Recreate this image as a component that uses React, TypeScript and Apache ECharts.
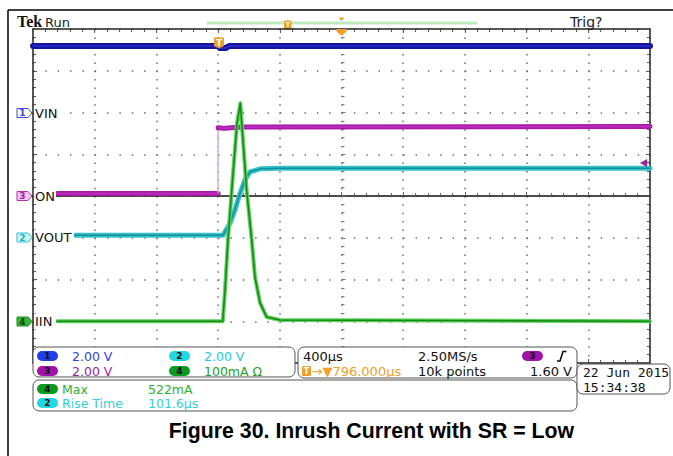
import React, { useEffect, useRef } from "react";
import * as echarts from "echarts";

// ---- Scope settings ----
const US_PER_DIV = 400;
const TRIG_DELAY_US = 796; // screen centre lies 796 µs after trigger
const X_TICKS_US = [-2000, 2000];

// ---- Channel data (time in µs after trigger) ----
// CH1 VIN (V), 2 V/div, ground at +2 div
const VIN_T = [-1204, -6, 8, 45, 70, 2796];
const VIN_V = [3.19, 3.19, 3.09, 3.09, 3.19, 3.19];
// CH3 ON (V), 2 V/div, ground at 0 div
const ON_T = [-1048, -4, -4, 40, 150, 2796];
const ON_V = [0.12, 0.12, 3.27, 3.24, 3.3, 3.33];
// CH2 VOUT (V), 2 V/div, ground at -1 div
const VOUT_T = [-931, 28, 73, 105, 138, 170, 203, 268, 397, 2796];
const VOUT_V = [0.12, 0.12, 0.69, 1.33, 2.13, 2.77, 3.16, 3.3, 3.33, 3.33];
// CH4 IIN (mA), 100 mA/div, ground at -3 div
const IIN_T = [-1048, 26, 41, 60, 93, 119, 140, 181, 214, 235, 268, 311, 397, 2796];
const IIN_I = [0, 0, 75, 195, 355, 475, 522, 314, 195, 106, 44, 10, 3, 0];

const CH_OFFSET = { vin: 2, on: 0, vout: -1, iin: -3 };
const CH_SCALE = { vin: 2, on: 2, vout: 2, iin: 100 };

const toPts = (t: number[], v: number[], off: number, sc: number) =>
  t.map((tt, i) => [tt - TRIG_DELAY_US, off + v[i] / sc]);

// layout
const GL = 33, GT = 29, GW = 617, GH = 334;
const FONT = '"DejaVu Sans"';

function lineSeries(data: number[][], color: string, width: number, z: number) {
  return {
    type: "line",
    data,
    symbol: "none",
    silent: true,
    z,
    lineStyle: { color, width, join: "round", cap: "round" },
    xAxisIndex: 0,
    yAxisIndex: 0,
  };
}

function text(x: number, y: number, t: string, fill: string, font: string, align = "left") {
  return {
    type: "text",
    style: { x, y, text: t, fill, font, textAlign: align, textVerticalAlign: "middle" },
    z: 100,
  };
}

function pill(x: number, y: number, label: string, fill: string) {
  return [
    { type: "rect", shape: { x, y, width: 21, height: 10, r: 5 }, style: { fill }, z: 100 },
    text(x + 10.5, y + 5, label, "#111", `bold 9px ${FONT}`, "center"),
  ];
}

function chMarker(y: number, label: string, stroke: string, fill: string, tcol: string, name: string, nameW: number) {
  return [
    { type: "rect", shape: { x: 34, y: y - 8, width: nameW, height: 16 }, style: { fill: "#fff" }, z: 90 },
    {
      type: "polygon",
      shape: { points: [[17, y - 4.5], [28, y - 4.5], [32, y], [28, y + 4.5], [17, y + 4.5]] },
      style: { fill, stroke, lineWidth: 1 },
      z: 100,
    },
    text(22.5, y, label, tcol, `bold 9px ${FONT}`, "center"),
    text(35, y, name, "#111", `13px ${FONT}`),
  ];
}

function panel(x: number, y: number, w: number, h: number) {
  return {
    type: "rect",
    shape: { x, y, width: w, height: h, r: 6 },
    style: { fill: "#fff", stroke: "#555", lineWidth: 1 },
    z: 95,
  };
}

const ORANGE = "#f0a02a";

export default function App() {
  const ref = useRef<HTMLDivElement>(null);
  useEffect(() => {
    document.body.style.margin = "0";
    const chart = echarts.init(ref.current!, undefined, { renderer: "svg" });

    const vin = toPts(VIN_T, VIN_V, CH_OFFSET.vin, CH_SCALE.vin);
    const on = toPts(ON_T, ON_V, CH_OFFSET.on, CH_SCALE.on);
    const vout = toPts(VOUT_T, VOUT_V, CH_OFFSET.vout, CH_SCALE.vout);
    const iin = toPts(IIN_T, IIN_I, CH_OFFSET.iin, CH_SCALE.iin);

    const dotV = { color: "#6e6e6e", width: 1.5, type: [1.5, 6.85] };
    const dotH = { color: "#6e6e6e", width: 1.5, type: [1.5, 10.84] };
    const border = { color: "#222", width: 1.5 };

    const graphic: any[] = [
      // page frame
      { type: "line", shape: { x1: 8, y1: 10, x2: 673, y2: 10 }, style: { stroke: "#000", lineWidth: 1.5 } },
      { type: "line", shape: { x1: 8, y1: 10, x2: 8, y2: 456 }, style: { stroke: "#000", lineWidth: 1.5 } },
      // header
      { type: "text", style: { x: 17, y: 29.5, text: "Tek", font: 'bold 16px "Liberation Serif"', fill: "#111", textVerticalAlign: "bottom" } },
      { type: "text", style: { x: 45, y: 28.5, text: "Run", font: `13px ${FONT}`, fill: "#222", textVerticalAlign: "bottom" } },
      { type: "text", style: { x: 570, y: 29, text: "Trig?", font: `14px ${FONT}`, fill: "#222", textVerticalAlign: "bottom" } },
      { type: "line", shape: { x1: 207, y1: 23, x2: 477, y2: 23 }, style: { stroke: "#bfe9bf", lineWidth: 3 } },
      { type: "rect", shape: { x: 284, y: 20.5, width: 7.5, height: 9, r: 1 }, style: { fill: ORANGE } },
      text(287.8, 25, "T", "#fff", `bold 7px ${FONT}`, "center"),
      { type: "polygon", shape: { points: [[338.5, 17.5], [344.5, 17.5], [341.5, 21]] }, style: { fill: ORANGE } },
      { type: "polygon", shape: { points: [[336.5, 29], [346.5, 29], [346.5, 31.5], [341.5, 36], [336.5, 31.5]] }, style: { fill: ORANGE }, z: 100 },
      // trigger point marker on trace
      { type: "polygon", shape: { points: [[214, 37.5], [224, 37.5], [224, 46], [219, 48.5], [214, 46]] }, style: { fill: ORANGE }, z: 100 },
      text(219, 42.5, "T", "#fff", `bold 9px ${FONT}`, "center"),
      // trigger level arrow (CH3 1.60 V)
      { type: "polygon", shape: { points: [[640, 163], [647, 159], [647, 167]] }, style: { fill: "#a020a0" }, z: 100 },
      // channel markers
      ...chMarker(113, "1", "#3a4ae8", "#fdfbe6", "#3a4ae8", "VIN", 26),
      ...chMarker(196, "3", "#b030b0", "#f2c6f2", "#a020a0", "ON", 22),
      ...chMarker(237.5, "2", "#20c4d4", "#d4f6fa", "#18b0c0", "VOUT", 40),
      ...chMarker(321.5, "4", "#1e8a1e", "#34b834", "#0d3d0d", "IIN", 22),
      // bottom panels
      panel(33, 347, 262, 30),
      panel(298, 347, 279, 31),
      panel(33, 380, 544, 31),
      panel(577, 364, 93, 30),
      ...pill(37, 351, "1", "#2340e8"),
      text(72, 356, "2.00 V", "#3a3af0", `12.5px ${FONT}`),
      ...pill(37, 366, "3", "#a012a8"),
      text(72, 371, "2.00 V", "#a020a8", `12.5px ${FONT}`),
      ...pill(169, 351, "2", "#22d6e2"),
      text(204, 356, "2.00 V", "#22ccdc", `12.5px ${FONT}`),
      ...pill(169, 366, "4", "#0c9a22"),
      text(204, 371, "100mA \u03a9", "#22a022", `12.5px ${FONT}`),
      text(303, 356, "400\u00b5s", "#111", `13px ${FONT}`),
      { type: "rect", shape: { x: 302, y: 366, width: 9, height: 10, r: 1 }, style: { fill: ORANGE }, z: 100 },
      text(306.5, 371, "T", "#fff", `bold 8px ${FONT}`, "center"),
      text(311.5, 371, "\u2192\u25bc796.000\u00b5s", ORANGE, `13px ${FONT}`),
      text(418, 356, "2.50MS/s", "#111", `13px ${FONT}`),
      text(418, 371, "10k points", "#111", `13px ${FONT}`),
      ...pill(522, 351, "3", "#a012a8"),
      { type: "polyline", shape: { points: [[557, 361], [560, 361], [563, 351.5], [566.5, 351.5]] }, style: { stroke: "#111", lineWidth: 1.6, fill: null }, z: 100 },
      text(572, 371, "1.60 V", "#111", `13px ${FONT}`, "right"),
      ...pill(37, 384, "4", "#0c9a22"),
      text(62, 389, "Max", "#2fb02f", `12.5px ${FONT}`),
      text(148, 389, "522mA", "#2fb02f", `12.5px ${FONT}`),
      ...pill(37, 398, "2", "#22d6e2"),
      text(62, 403, "Rise Time", "#30d0e0", `12.5px ${FONT}`),
      text(148, 403, "101.6\u00b5s", "#30d0e0", `12.5px ${FONT}`),
      text(583, 372.5, "22 Jun 2015", "#111", `13px "DejaVu Sans Mono"`),
      text(583, 387, "15:34:38", "#111", `13px "DejaVu Sans Mono"`),
      // caption
      text(371.5, 431, "Figure 30. Inrush Current with SR = Low", "#000", 'bold 21.3px "Liberation Sans"', "center"),
    ];

    chart.setOption({
      animation: false,
      backgroundColor: "#fff",
      grid: { left: GL, top: GT, width: GW, height: GH, containLabel: false },
      xAxis: [
        {
          // centre horizontal line (on zero) + vertical graticule
          type: "value", min: X_TICKS_US[0], max: X_TICKS_US[1], interval: US_PER_DIV, position: "bottom",
          axisLine: { show: true, onZero: true, onZeroAxisIndex: 0, lineStyle: { color: "#111", width: 1.5 } },
          axisTick: { show: true, inside: true, length: 4, lineStyle: { color: "#666" } },
          minorTick: { show: true, splitNumber: 5, length: 3, lineStyle: { color: "#666" } },
          axisLabel: { show: false },
          splitLine: { show: true, lineStyle: dotV },
        },
        {
          type: "value", min: X_TICKS_US[0], max: X_TICKS_US[1], interval: US_PER_DIV, position: "top",
          axisLine: { show: true, onZero: false, lineStyle: border },
          axisTick: { show: true, inside: true, length: 4, lineStyle: { color: "#555" } },
          minorTick: { show: true, splitNumber: 5, length: 3, lineStyle: { color: "#555" } },
          axisLabel: { show: false }, splitLine: { show: false },
        },
        {
          type: "value", min: X_TICKS_US[0], max: X_TICKS_US[1], interval: US_PER_DIV, position: "bottom",
          axisLine: { show: true, onZero: false, lineStyle: border },
          axisTick: { show: true, inside: true, length: 4, lineStyle: { color: "#555" } },
          minorTick: { show: true, splitNumber: 5, length: 3, lineStyle: { color: "#555" } },
          axisLabel: { show: false }, splitLine: { show: false },
        },
      ],
      yAxis: [
        {
          type: "value", min: -4, max: 4, interval: 1, position: "left",
          axisLine: { show: true, onZero: false, lineStyle: border },
          axisTick: { show: true, inside: true, length: 4, lineStyle: { color: "#555" } },
          minorTick: { show: true, splitNumber: 5, length: 3, lineStyle: { color: "#555" } },
          axisLabel: { show: false },
          splitLine: { show: true, lineStyle: dotH },
        },
        {
          type: "value", min: -4, max: 4, interval: 1, position: "right",
          axisLine: { show: true, onZero: false, lineStyle: border },
          axisTick: { show: true, inside: true, length: 4, lineStyle: { color: "#555" } },
          minorTick: { show: true, splitNumber: 5, length: 3, lineStyle: { color: "#555" } },
          axisLabel: { show: false }, splitLine: { show: false },
        },
        {
          // centre vertical ticks
          type: "value", min: -4, max: 4, interval: 1, position: "left",
          axisLine: { show: false, onZero: true, onZeroAxisIndex: 0 },
          axisTick: { show: true, inside: true, length: 4, lineStyle: { color: "#777" } },
          minorTick: { show: true, splitNumber: 5, length: 3, lineStyle: { color: "#777" } },
          axisLabel: { show: false }, splitLine: { show: false },
        },
      ],
      series: [
        lineSeries(vin, "#16169a", 6, 10),
        lineSeries(vin, "#2b2bd6", 1.5, 11),
        lineSeries(on.slice(0, 2), "#a81aa8", 5, 12),
        lineSeries(on.slice(1, 3), "#d9aad9", 1.5, 12),
        lineSeries(on.slice(2), "#a81aa8", 5, 12),
        lineSeries(on.slice(0, 2), "#c030c0", 1.5, 13),
        lineSeries(on.slice(2), "#c030c0", 1.5, 13),
        lineSeries(vout, "#34c2ca", 5, 14),
        lineSeries(vout, "#138f99", 1.5, 15),
        lineSeries(iin, "#5fd05f", 4, 16),
        lineSeries(iin, "#128a12", 1.5, 17),
      ],
      graphic,
    });
    return () => chart.dispose();
  }, []);
  return <div ref={ref} style={{ width: 673, height: 456 }} />;
}
